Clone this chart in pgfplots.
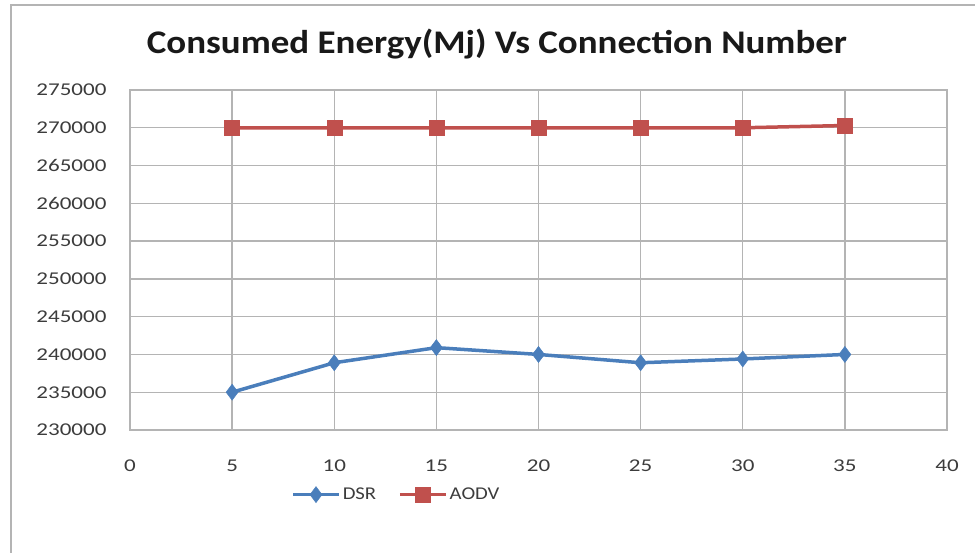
\documentclass[border=0pt]{standalone}
\usepackage{pgfplots}
\pgfplotsset{compat=1.18}
\usepackage{fontspec}
\setmainfont{Carlito}
\newfontfamily\tickfont[FakeStretch=1.28]{Carlito}
\newfontfamily\legfont[FakeStretch=1.15]{Carlito}
\newfontfamily\titlefont[FakeStretch=1.12]{Carlito}
\definecolor{dsr}{RGB}{74,126,187}
\definecolor{aodv}{RGB}{192,80,77}
\definecolor{gridc}{RGB}{180,180,180}
\definecolor{tickc}{RGB}{60,60,60}
\begin{document}
\begin{tikzpicture}
\useasboundingbox (0,0) rectangle (975pt,552pt);
\draw[draw=gridc, line width=2pt] (11pt,547pt) rectangle (1000pt,-20pt);
\node[font=\titlefont\bfseries\fontsize{33}{38}\selectfont, text=black!90] at (497pt,508pt) {Consumed Energy(Mj) Vs Connection Number};
\begin{axis}[
  at={(130pt,122pt)}, anchor=south west,
  scale only axis, width=817pt, height=340pt,
  xmin=0, xmax=40, ymin=230000, ymax=275000,
  xtick={0,5,...,40}, ytick={230000,235000,...,275000},
  scaled y ticks=false,
  /pgf/number format/assume math mode=true,
  /pgf/number format/fixed,
  /pgf/number format/precision=0,
  /pgf/number format/1000 sep={},
  xmajorgrids, ymajorgrids,
  grid style={draw=gridc, line width=1.3pt},
  axis line style={draw=gridc, line width=1.3pt},
  major tick length=0pt,
  tick label style={font=\tickfont\fontsize{18}{20}\selectfont, text=tickc},
  xticklabel style={yshift=-26pt},
  yticklabel style={xshift=-20pt},
  legend columns=2,
  legend style={at={(0.326,-0.19)}, anchor=center, draw=none, fill=none,
    font=\legfont\fontsize{18}{20}\selectfont, text=tickc,
    /tikz/every even column/.append style={column sep=20pt}},
  legend image code/.code={
    \draw[mark repeat=2,mark phase=2] plot coordinates {(0pt,0pt) (23pt,0pt) (46pt,0pt)};
  },
]
\addplot[color=dsr, line width=3.5pt, mark=diamond*, mark size=8pt, mark options={solid, line width=0.5pt}] coordinates {
(5,235000) (10,238900) (15,240900) (20,240000) (25,238900) (30,239400) (35,240000)};
\addlegendentry{DSR}
\addplot[color=aodv, line width=3.5pt, mark=square*, mark size=7.5pt, mark options={solid, line width=0.5pt}] coordinates {
(5,270000) (10,270000) (15,270000) (20,270000) (25,270000) (30,270000) (35,270300)};
\addlegendentry{AODV}
\end{axis}
\end{tikzpicture}
\end{document}
